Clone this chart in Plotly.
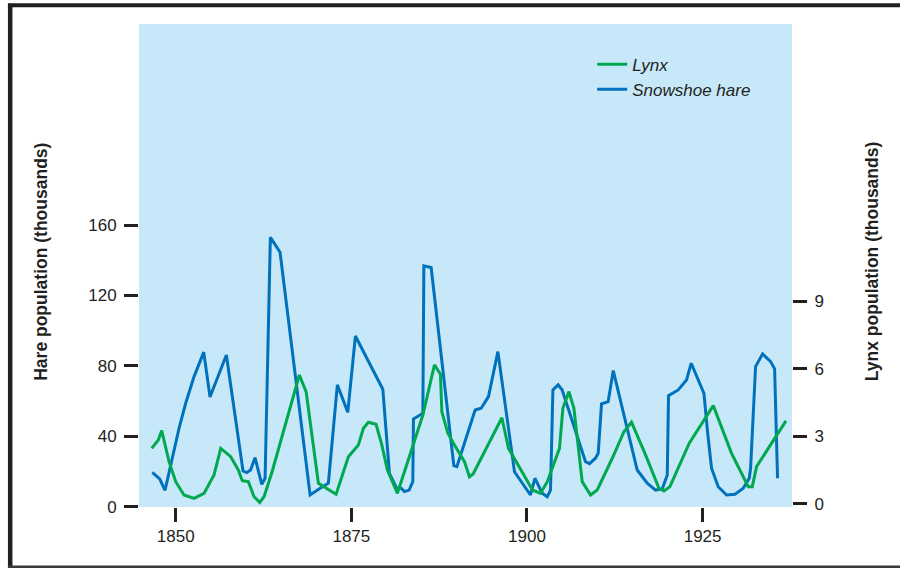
import plotly.graph_objects as go

# ---- data ----
hare_years = [1846.67, 1847.72, 1848.48, 1849.52, 1850.47, 1851.42, 1852.61, 1853.99, 1854.88, 1857.21,
              1859.58, 1860.11, 1860.65, 1861.29, 1862.25, 1862.72, 1863.47, 1864.85, 1869.13, 1870.55,
              1871.73, 1873.01, 1874.49, 1875.58, 1879.48, 1880.42, 1881.47, 1882.09, 1882.56, 1883.22,
              1883.75, 1883.84, 1885.18, 1885.32, 1886.36, 1889.59, 1890.02, 1892.62, 1893.48, 1894.52,
              1895.86, 1898.22, 1900.50, 1901.13, 1902.17, 1902.88, 1903.35, 1903.69, 1904.44, 1905.01,
              1908.33, 1908.90, 1909.75, 1910.14, 1910.61, 1911.56, 1912.28, 1915.69, 1917.12, 1918.30,
              1919.25, 1919.97, 1920.15, 1921.53, 1922.71, 1923.38, 1925.19, 1925.70, 1926.27, 1927.22,
              1928.41, 1929.61, 1930.79, 1931.64, 1931.83, 1932.54, 1933.54, 1934.68, 1935.25, 1935.67]
hare_values = [19.5, 15.7, 9.3, 27.5, 44.5, 58.8, 73.9, 87.8, 62.3, 86.2,
               20.2, 19.3, 20.8, 27.8, 12.7, 16.1, 153.1, 144.6, 6.6, 10.4,
               13.3, 69.2, 53.6, 97.0, 66.7, 18.9, 10.4, 10.4, 8.5, 9.4,
               14.2, 49.8, 53.1, 136.8, 135.9, 23.3, 22.7, 54.9, 55.9, 62.5,
               88.1, 19.8, 6.6, 16.1, 7.6, 5.6, 9.4, 66.3, 69.2, 66.3,
               25.5, 24.4, 27.5, 30.3, 58.4, 59.7, 77.3, 20.8, 13.3, 9.4,
               10.0, 18.0, 63.1, 66.3, 72.0, 81.5, 64.4, 42.6, 21.8, 11.3,
               6.6, 7.0, 10.4, 16.1, 21.8, 79.6, 86.8, 82.4, 78.3, 16.1]

lynx_years = [1846.58, 1847.52, 1848.01, 1849.05, 1850.00, 1851.18, 1852.61, 1854.03, 1855.45, 1856.41,
              1857.83, 1858.91, 1859.48, 1860.34, 1861.15, 1861.96, 1862.57, 1863.71, 1867.60, 1868.56,
              1870.31, 1872.83, 1874.58, 1876.00, 1876.72, 1877.43, 1878.52, 1879.34, 1880.13, 1881.56,
              1882.09, 1885.18, 1886.83, 1887.68, 1887.88, 1888.74, 1889.68, 1891.10, 1891.81, 1892.34,
              1896.43, 1897.37, 1900.78, 1901.92, 1902.88, 1904.63, 1905.11, 1905.97, 1906.68, 1907.39,
              1907.86, 1909.05, 1910.00, 1912.14, 1913.80, 1914.88, 1916.88, 1918.78, 1919.50, 1920.35,
              1921.53, 1923.10, 1926.52, 1929.12, 1931.50, 1932.07, 1932.68, 1936.87]
lynx_values = [2.46, 2.83, 3.25, 1.87, 0.98, 0.39, 0.24, 0.46, 1.28, 2.46,
               2.09, 1.50, 1.02, 0.98, 0.31, 0.06, 0.31, 1.41, 5.72, 4.98,
               0.91, 0.42, 2.09, 2.61, 3.35, 3.62, 3.53, 2.61, 1.50, 0.46,
               0.98, 3.94, 6.17, 5.75, 4.09, 3.13, 2.61, 1.87, 1.20, 1.32,
               3.82, 2.46, 0.61, 0.46, 0.97, 2.46, 4.24, 4.98, 4.24, 2.17,
               0.98, 0.39, 0.61, 2.02, 3.20, 3.62, 2.17, 0.69, 0.57, 0.76,
               1.58, 2.69, 4.36, 2.24, 0.76, 0.76, 1.65, 3.68]

x_ticks = [1850, 1875, 1900, 1925]
hare_ticks = [0, 40, 80, 120, 160]
lynx_ticks = [0, 3, 6, 9]

# ---- styling ----
BLUE = "#0071BC"
GREEN = "#00A84F"
INK = "#231F20"
BG = "#C7E8F9"
FONT = "Liberation Sans"

W, H = 900, 568
L, R, T, B = 139, 791.7, 24.3, 507.0   # plot area in pixels
pw, ph = R - L, B - T


def px_x(p):
    return (p - L) / pw


def px_y(p):
    return (B - p) / ph


fig = go.Figure()
fig.add_trace(go.Scatter(x=hare_years, y=hare_values, mode="lines", name="Snowshoe hare",
                         line=dict(color=BLUE, width=3), yaxis="y"))
fig.add_trace(go.Scatter(x=lynx_years, y=lynx_values, mode="lines", name="Lynx",
                         line=dict(color=GREEN, width=3), yaxis="y2"))

tickfont = dict(family=FONT, size=17, color=INK)

fig.update_layout(
    width=W, height=H, autosize=False,
    margin=dict(l=L, r=W - R, t=T, b=H - B, pad=0),
    paper_bgcolor="white", plot_bgcolor=BG,
    showlegend=True,
    legend=dict(x=px_x(592), y=px_y(47), xanchor="left", yanchor="top",
                bgcolor="rgba(0,0,0,0)", traceorder="reversed",
                font=dict(family=FONT, size=17, color=INK, style="italic")),
    xaxis=dict(range=[1844.773, 1937.725], tickvals=x_ticks, ticks="outside", ticklen=14,
               tickwidth=3, tickcolor=INK, showgrid=False, zeroline=False, showline=False,
               tickfont=tickfont),
    yaxis=dict(range=[-0.2275, 274.3], tickvals=hare_ticks, ticks="outside", ticklen=14,
               tickwidth=3, tickcolor=INK, showgrid=False, zeroline=False, showline=False,
               tickfont=tickfont, ticklabelstandoff=4),
    yaxis2=dict(range=[-0.145, 21.311], tickvals=lynx_ticks, ticks="outside", ticklen=14,
                tickwidth=3, tickcolor=INK, showgrid=False, zeroline=False, showline=False,
                overlaying="y", side="right", tickfont=tickfont, ticklabelstandoff=4),
)

# axis titles
fig.add_annotation(text="<b>Hare population (thousands)</b>", xref="paper", yref="paper",
                   x=px_x(41), y=px_y(262), textangle=-90, showarrow=False,
                   font=dict(family=FONT, size=17.5, color=INK), xanchor="center", yanchor="middle")
fig.add_annotation(text="<b>Lynx population (thousands)</b>", xref="paper", yref="paper",
                   x=px_x(872), y=px_y(262), textangle=-90, showarrow=False,
                   font=dict(family=FONT, size=17.5, color=INK), xanchor="center", yanchor="middle")

# frame around the figure
fig.add_shape(type="rect", xref="paper", yref="paper", x0=px_x(8), x1=px_x(12.5),
              y0=px_y(568), y1=px_y(4), fillcolor=INK, line=dict(width=0), layer="above")
fig.add_shape(type="rect", xref="paper", yref="paper", x0=px_x(8), x1=px_x(901),
              y0=px_y(7.5), y1=px_y(3.5), fillcolor=INK, line=dict(width=0), layer="above")
fig.add_shape(type="rect", xref="paper", yref="paper", x0=px_x(8), x1=px_x(901),
              y0=px_y(568), y1=px_y(565.5), fillcolor="#3A3A3A", line=dict(width=0), layer="above")

fig.write_html("out.html", config={"displayModeBar": False},
               post_script="document.body.style.margin='0';document.body.style.overflow='hidden';")
